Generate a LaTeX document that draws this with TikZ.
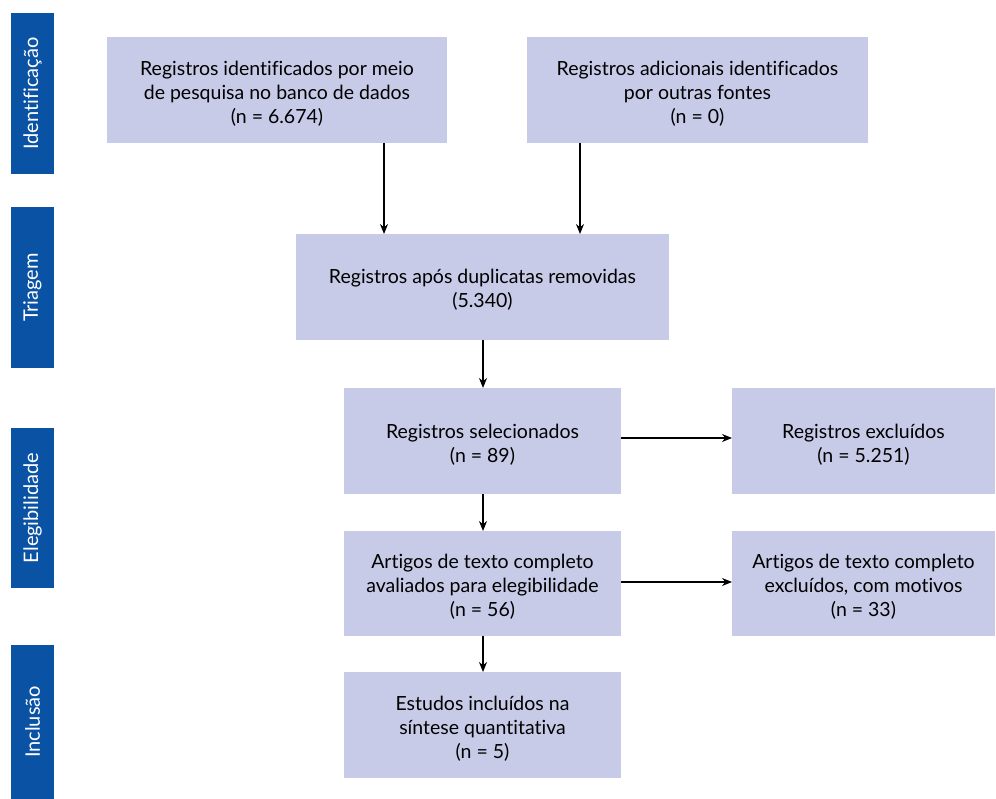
\documentclass[tikz,border=0pt]{standalone}
\usepackage{fontspec}
\setmainfont[Ligatures={NoCommon}]{Lato}
\usetikzlibrary{arrows.meta}
\definecolor{barblue}{HTML}{0A52A4}
\definecolor{boxfill}{HTML}{C8CBE8}
\begin{document}
\begin{tikzpicture}[x=1pt,y=-1pt,
  stagetext/.style={text=white,rotate=90,font=\fontsize{20}{24}\selectfont},
  flowbox/.style={fill=none,draw=none,align=center,font=\fontsize{19.5}{24}\selectfont},
  flowarrow/.style={-{Stealth[length=10pt,width=8pt]},line width=1.2pt}]
\useasboundingbox (0,0) rectangle (996,799);
% stage bars
\fill[barblue] (11,13) rectangle (54,174);
\node[stagetext] (s1) at (32.5,93.5) {Identificação};
\fill[barblue] (11,207) rectangle (54,368);
\node[stagetext] (s2) at (32.5,287.5) {Triagem};
\fill[barblue] (11,428) rectangle (54,588);
\node[stagetext] (s3) at (32.5,508) {Elegibilidade};
\fill[barblue] (11,645) rectangle (54,799);
\node[stagetext] (s4) at (32.5,722) {Inclusão};
% boxes
\fill[boxfill] (107,37) rectangle (447,143);
\node[flowbox] (b1) at (277,94) {Registros identificados por meio\\de pesquisa no banco de dados\\(n = 6.674)};
\fill[boxfill] (527,37) rectangle (868,143);
\node[flowbox] (b2) at (697.5,94) {Registros adicionais identificados\\por outras fontes\\(n = 0)};
\fill[boxfill] (296,234) rectangle (669,340);
\node[flowbox] (b3) at (482.5,290) {Registros após duplicatas removidas\\(5.340)};
\fill[boxfill] (344,388) rectangle (621,494);
\node[flowbox] (b4) at (482.5,445) {Registros selecionados\\(n = 89)};
\fill[boxfill] (732,388) rectangle (995,494);
\node[flowbox] (b5) at (863.5,445) {Registros excluídos\\(n = 5.251)};
\fill[boxfill] (344,531) rectangle (621,636);
\node[flowbox] (b6) at (482.5,587) {Artigos de texto completo\\avaliados para elegibilidade\\(n = 56)};
\fill[boxfill] (732,531) rectangle (995,636);
\node[flowbox] (b7) at (863.5,587) {Artigos de texto completo\\excluídos, com motivos\\(n = 33)};
\fill[boxfill] (344,672) rectangle (621,778);
\node[flowbox] (b8) at (482.5,729) {Estudos incluídos na\\síntese quantitativa\\(n = 5)};
% anchor coordinates on box edges
\coordinate (b1s) at (384,143); \coordinate (b3n1) at (384,234);
\coordinate (b2s) at (580,143); \coordinate (b3n2) at (580,234);
\coordinate (b3s) at (483,340); \coordinate (b4n) at (483,388);
\coordinate (b4e) at (621,438); \coordinate (b5w) at (732,438);
\coordinate (b4s) at (483,494); \coordinate (b6n) at (483,531);
\coordinate (b6e) at (621,582); \coordinate (b7w) at (732,582);
\coordinate (b6s) at (483,636); \coordinate (b8n) at (483,672);
\draw[flowarrow] (b1s) -- (b3n1);
\draw[flowarrow] (b2s) -- (b3n2);
\draw[flowarrow] (b3s) -- (b4n);
\draw[flowarrow] (b4e) -- (b5w);
\draw[flowarrow] (b4s) -- (b6n);
\draw[flowarrow] (b6e) -- (b7w);
\draw[flowarrow] (b6s) -- (b8n);
\end{tikzpicture}
\end{document}
